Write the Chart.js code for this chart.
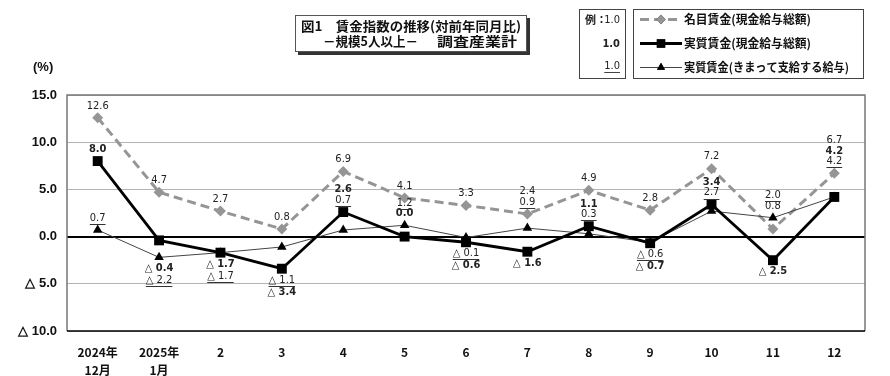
<!DOCTYPE html>
<html>
<head>
<meta charset="utf-8">
<script src="https://cdn.jsdelivr.net/npm/chart.js@4/dist/chart.umd.min.js"></script>
<style>
  html, body { margin: 0; padding: 0; background: #fff; }
  #wrap { position: relative; width: 890px; height: 376px; }
</style>
</head>
<body>
<div id="wrap"><canvas id="c" width="890" height="376"></canvas></div>
<script>
// months on the x axis (two-line labels for the first two)
const months = [['2024年', '12月'], ['2025年', '1月'], '2', '3', '4', '5', '6', '7', '8', '9', '10', '11', '12']

// year-on-year change, %
const nominalWage = [12.6, 4.7, 2.7, 0.8, 6.9, 4.1, 3.3, 2.4, 4.9, 2.8, 7.2, 0.8, 6.7]    // 名目賃金(現金給与総額)
const realWage = [8.0, -0.4, -1.7, -3.4, 2.6, 0.0, -0.6, -1.6, 1.1, -0.7, 3.4, -2.5, 4.2]  // 実質賃金(現金給与総額)
const realScheduled = [0.7, -2.2, -1.7, -1.1, 0.7, 1.2, -0.1, 0.9, 0.3, -0.6, 2.7, 2.0, 4.2] // 実質賃金(きまって支給する給与)

const yTicks = [15, 10, 5, 0, -5, -10]

// label stacking per month: '+' above / '-' below, keys listed outward from the markers
// n = nominal, r = real, s = scheduled
const labelGroups = [
  ['+n', '+r', '+s'], ['+n', '-rs'], ['+n', '-rs'], ['+n', '-sr'], ['+n', '+sr'],
  ['+n', '+rs'], ['+n', '-sr'], ['+sn', '-r'], ['+n', '+sr'], ['+n', '-sr'],
  ['+n', '+sr'], ['+ns', '-r'], ['+srn']
]

const seriesIndex = { n: 0, r: 1, s: 2 }
const NARROW = '"Liberation Sans Narrow", "DejaVu Sans Condensed", sans-serif'
const JP = '"Noto Sans CJK JP", sans-serif'

function fmt(v) {
  return v < 0 ? '△ ' + Math.abs(v).toFixed(1) : v.toFixed(1)
}

// draw text left-aligned, stretched/squeezed to a given width
function fitText(ctx, text, x, y, width) {
  const w = ctx.measureText(text).width
  ctx.save()
  ctx.translate(x, y)
  ctx.scale(width / w, 1)
  ctx.textAlign = 'left'
  ctx.fillText(text, 0, 0)
  ctx.restore()
}

function drawLabel(ctx, text, x, y, key) {
  ctx.font = (key === 'r' ? 'bold ' : '') + '11px ' + NARROW
  ctx.fillStyle = '#222'
  ctx.textAlign = 'center'
  ctx.textBaseline = 'middle'
  ctx.fillText(text, x, y)
  if (key === 's') {
    const w = ctx.measureText(text).width
    ctx.strokeStyle = '#333'
    ctx.lineWidth = 1
    ctx.beginPath()
    ctx.moveTo(x - w / 2, Math.round(y + 6) + 0.5)
    ctx.lineTo(x + w / 2, Math.round(y + 6) + 0.5)
    ctx.stroke()
  }
}

const pointLabels = {
  id: 'pointLabels',
  afterDatasetsDraw(chart) {
    const ctx = chart.ctx
    const series = [nominalWage, realWage, realScheduled]
    ctx.save()
    labelGroups.forEach((groups, i) => {
      groups.forEach(g => {
        const dir = g[0] === '+' ? -1 : 1
        const keys = g.slice(1).split('')
        const pts = keys.map(k => chart.getDatasetMeta(seriesIndex[k]).data[i])
        const ys = pts.map(p => p.y)
        const anchor = dir < 0 ? Math.min(...ys) : Math.max(...ys)
        keys.forEach((k, n) => {
          const off = dir < 0 ? 12 + n * 10.5 : 11 + n * 12
          drawLabel(ctx, fmt(series[seriesIndex[k]][i]), pts[0].x, anchor + dir * off, k)
        })
      })
    })
    ctx.restore()
  }
}

// frame, title box, legends
const decorations = {
  id: 'decorations',
  afterDraw(chart) {
    const ctx = chart.ctx
    const a = chart.chartArea
    ctx.save()

    // plot frame
    ctx.lineWidth = 1.5
    ctx.strokeStyle = '#777'
    ctx.beginPath()
    ctx.moveTo(a.left, a.bottom); ctx.lineTo(a.left, a.top)
    ctx.lineTo(a.right, a.top); ctx.lineTo(a.right, a.bottom)
    ctx.stroke()
    ctx.strokeStyle = '#000'
    ctx.beginPath()
    ctx.moveTo(a.left, a.bottom); ctx.lineTo(a.right, a.bottom)
    ctx.stroke()

    // (%)
    ctx.fillStyle = '#111'
    ctx.font = 'bold 13px "Liberation Sans", sans-serif'
    ctx.textAlign = 'left'
    ctx.textBaseline = 'middle'
    ctx.fillText('(%)', 33, 67)

    // title box with drop shadow
    ctx.fillStyle = '#333'
    ctx.fillRect(298, 18, 232, 37)
    ctx.fillStyle = '#fff'
    ctx.fillRect(295, 15, 232, 37)
    ctx.lineWidth = 1
    ctx.strokeStyle = '#555'
    ctx.strokeRect(295.5, 15.5, 231, 36)
    ctx.fillStyle = '#111'
    ctx.font = 'bold 13px ' + JP
    fitText(ctx, '図1　賃金指数の推移(対前年同月比)', 301, 26, 220)
    fitText(ctx, '－規模5人以上－', 323, 41, 95)
    fitText(ctx, '調査産業計', 437, 41, 80)

    // example box
    ctx.strokeStyle = '#444'
    ctx.strokeRect(579.5, 9.5, 46, 69)
    ctx.fillStyle = '#222'
    ctx.textAlign = 'left'
    ctx.font = 'bold 11px ' + JP
    ctx.fillText('例：', 585, 20)
    ctx.textAlign = 'right'
    ctx.font = '11px ' + NARROW
    ctx.fillText('1.0', 620, 20)
    ctx.font = 'bold 11px ' + NARROW
    ctx.fillText('1.0', 620, 44)
    ctx.font = '11px ' + NARROW
    ctx.fillText('1.0', 620, 66)
    const uw = ctx.measureText('1.0').width
    ctx.beginPath()
    ctx.moveTo(620 - uw, 72.5); ctx.lineTo(620, 72.5)
    ctx.stroke()

    // series legend box
    ctx.strokeStyle = '#444'
    ctx.strokeRect(633.5, 9.5, 230, 69)
    const rows = [
      { y: 19.5, text: '名目賃金(現金給与総額)', ds: 0, w: 127 },
      { y: 43.5, text: '実質賃金(現金給与総額)', ds: 1, w: 127 },
      { y: 67.5, text: '実質賃金(きまって支給する給与)', ds: 2, w: 165 }
    ]
    rows.forEach(r => {
      const d = chart.data.datasets[r.ds]
      ctx.save()
      ctx.strokeStyle = d.borderColor
      ctx.lineWidth = d.borderWidth
      ctx.setLineDash(d.borderDash || [])
      ctx.beginPath()
      ctx.moveTo(640, r.y); ctx.lineTo(682, r.y)
      ctx.stroke()
      ctx.restore()
      Chart.helpers.drawPoint(ctx, {
        pointStyle: d.pointStyle, radius: d.pointRadius * 0.85, borderWidth: 0
      }, 661, r.y)
      ctx.fillStyle = d.pointBackgroundColor
      ctx.fill()
      ctx.fillStyle = '#111'
      ctx.font = 'bold 12px ' + JP
      fitText(ctx, r.text, 684, r.y, r.w)
    })
    ctx.restore()
  }
}

new Chart(document.getElementById('c'), {
  type: 'line',
  data: {
    labels: months,
    datasets: [
      {
        label: '名目賃金(現金給与総額)',
        data: nominalWage,
        borderColor: '#959595',
        borderWidth: 3,
        borderDash: [9, 5],
        pointStyle: 'rectRot',
        pointRadius: 5.5,
        pointBackgroundColor: '#959595',
        pointBorderWidth: 0,
        tension: 0,
        order: 2
      },
      {
        label: '実質賃金(現金給与総額)',
        data: realWage,
        borderColor: '#000',
        borderWidth: 2.8,
        pointStyle: 'rect',
        pointRadius: 7,
        pointBackgroundColor: '#000',
        pointBorderWidth: 0,
        tension: 0,
        order: 0
      },
      {
        label: '実質賃金(きまって支給する給与)',
        data: realScheduled,
        borderColor: '#444',
        borderWidth: 1,
        pointStyle: 'triangle',
        pointRadius: 5.5,
        pointBackgroundColor: '#000',
        pointBorderWidth: 0,
        tension: 0,
        order: 1
      }
    ]
  },
  options: {
    responsive: false,
    devicePixelRatio: 1,
    animation: false,
    layout: { padding: { top: 95, right: 25, left: 0, bottom: 0 } },
    plugins: { legend: { display: false }, title: { display: false }, tooltip: { enabled: false } },
    scales: {
      x: {
        offset: true,
        grid: { display: false, drawTicks: false },
        border: { display: false },
        ticks: {
          padding: 12,
          color: '#111',
          font: { family: JP, size: 12, weight: 'bold', lineHeight: 1.5 },
          maxRotation: 0,
          autoSkip: false
        },
        afterFit(s) { s.height = 45 }
      },
      y: {
        min: -10,
        max: 15,
        afterBuildTicks(s) { s.ticks = yTicks.map(v => ({ value: v })) },
        grid: {
          drawTicks: false,
          color: c => c.tick.value === 0 ? '#000' : '#b4b4b4',
          lineWidth: c => c.tick.value === 0 ? 2 : 1
        },
        border: { display: false },
        ticks: {
          padding: 10,
          color: '#111',
          font: { family: '"Liberation Sans", Arial, sans-serif', size: 13, weight: 'bold' },
          callback: v => fmt(v)
        },
        afterFit(s) { s.width = 67 }
      }
    }
  },
  plugins: [pointLabels, decorations]
})
</script>
</body>
</html>
